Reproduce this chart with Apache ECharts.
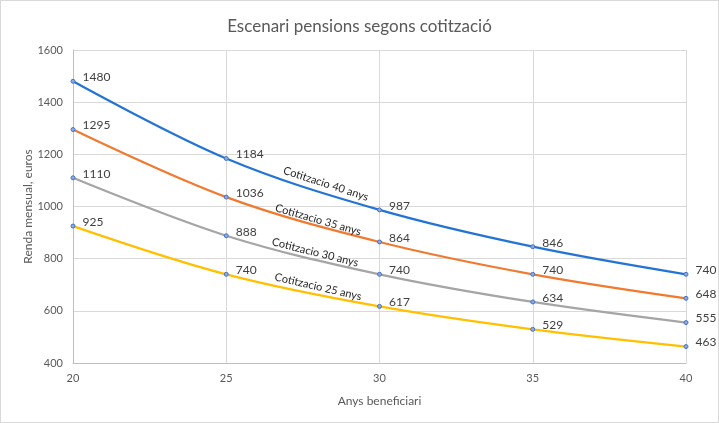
<!DOCTYPE html>
<html>
<head>
<meta charset="utf-8">
<script src="https://cdn.jsdelivr.net/npm/echarts@6/dist/echarts.min.js"></script>
<style>
  html, body { margin: 0; padding: 0; background: #fff; }
  #chart { width: 717px; height: 421px; border: 1px solid #d9d9d9; }
</style>
</head>
<body>
<div id="chart"></div>
<script>
// anys beneficiari
var years = [20, 25, 30, 35, 40];

// renda mensual per cotitzacio
var cot40 = [1480, 1184, 987, 846, 740];
var cot35 = [1295, 1036, 864, 740, 648];
var cot30 = [1110, 888, 740, 634, 555];
var cot25 = [925, 740, 617, 529, 463];

var seriesNames = ['Cotitzacio 40 anys', 'Cotitzacio 35 anys', 'Cotitzacio 30 anys', 'Cotitzacio 25 anys'];
// where the series name sits along each curve (x, y in data units)
var tagX = [28.25, 28.0, 27.9, 28.0];
var tagY = [1087, 949, 824, 692];
var tagRot = [-18, -16, -14, -13];

var colors = ['#2474d4', '#f07a30', '#a5a5a5', '#ffc000'];

var chart = echarts.init(document.getElementById('chart'));

function pairs(vals) {
    return years.map(function (y, i) { return [y, vals[i]]; });
}

function makeSeries(vals, idx) {
    return {
        name: seriesNames[idx],
        type: 'line',
        data: pairs(vals),
        smooth: 0.35,
        symbol: 'circle',
        symbolSize: 4,
        lineStyle: { color: colors[idx], width: 2.25 },
        itemStyle: { color: '#8faadc', borderColor: '#4472c4', borderWidth: 1 },
        label: {
            show: true,
            position: 'right',
            distance: 7,
            offset: [0, -4],
            color: '#404040',
            fontSize: 12,
            fontFamily: 'Lato'
        },
        markPoint: {
            symbol: 'circle',
            symbolSize: 0,
            data: [{ coord: [tagX[idx], tagY[idx]] }],
            label: {
                show: true,
                position: 'inside',
                formatter: seriesNames[idx],
                rotate: tagRot[idx],
                color: '#262626',
                fontSize: 11,
                fontFamily: 'Lato'
            }
        }
    };
}

chart.setOption({
    animation: false,
    title: {
        text: 'Escenari pensions segons cotització',
        left: 'center',
        top: 12,
        textStyle: {
            color: '#595959',
            fontWeight: 'normal',
            fontSize: 17,
            fontFamily: 'Lato'
        }
    },
    grid: {
        left: 72,
        right: 32,
        top: 49,
        bottom: 59
    },
    xAxis: {
        type: 'value',
        min: 20,
        max: 40,
        interval: 5,
        name: 'Anys beneficiari',
        nameLocation: 'middle',
        nameGap: 32,
        nameTextStyle: { color: '#595959', fontSize: 12, fontFamily: 'Lato' },
        axisLine: { lineStyle: { color: '#bfbfbf' } },
        axisTick: { show: false },
        axisLabel: { color: '#595959', fontSize: 11, fontFamily: 'Lato', margin: 10 },
        splitLine: { show: true, lineStyle: { color: '#d9d9d9' } }
    },
    yAxis: {
        type: 'value',
        min: 400,
        max: 1600,
        interval: 200,
        name: 'Renda mensual, euros',
        nameLocation: 'middle',
        nameGap: 39,
        nameMoveOverlap: false,
        nameTextStyle: { color: '#595959', fontSize: 12, fontFamily: 'Lato' },
        axisLine: { show: true, lineStyle: { color: '#bfbfbf' } },
        axisTick: { show: false },
        axisLabel: {
            color: '#595959', fontSize: 11, fontFamily: 'Lato', margin: 10,
            formatter: function (v) { return String(v); }
        },
        splitLine: { lineStyle: { color: '#d9d9d9' } }
    },
    series: [
        makeSeries(cot40, 0),
        makeSeries(cot35, 1),
        makeSeries(cot30, 2),
        makeSeries(cot25, 3)
    ]
});
</script>
</body>
</html>
